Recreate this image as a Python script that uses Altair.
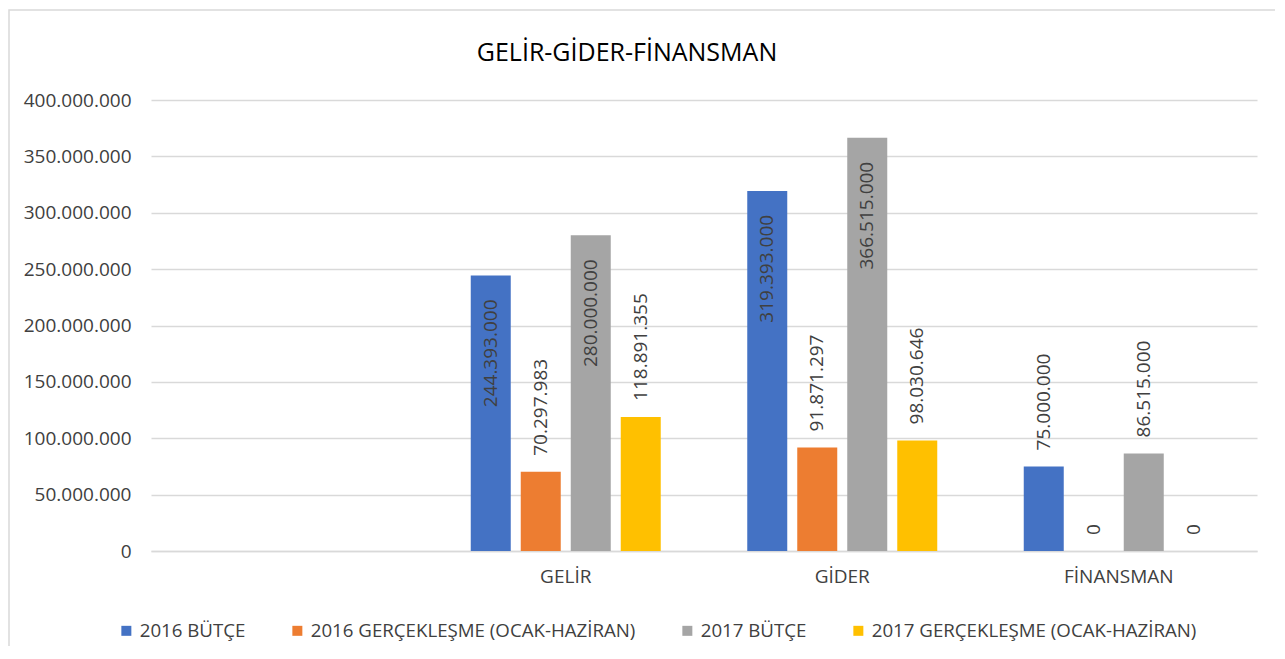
import altair as alt
import pandas as pd

chart_title = "GELİR-GİDER-FİNANSMAN"
all_categories = [" ", "GELİR", "GİDER", "FİNANSMAN"]
categories = ["GELİR", "GİDER", "FİNANSMAN"]
series = [
    "2016 BÜTÇE",
    "2016 GERÇEKLEŞME (OCAK-HAZİRAN)",
    "2017 BÜTÇE",
    "2017 GERÇEKLEŞME (OCAK-HAZİRAN)",
]
butce_2016 = [244393000, 319393000, 75000000]
gerceklesme_2016 = [70297983, 91871297, 0]
butce_2017 = [280000000, 366515000, 86515000]
gerceklesme_2017 = [118891355, 98030646, 0]
colors = ["#4472C4", "#ED7D31", "#A5A5A5", "#FFC000"]
y_ticks = [0, 50000000, 100000000, 150000000, 200000000, 250000000, 300000000, 350000000, 400000000]

rows = []
for s, vals in zip(series, [butce_2016, gerceklesme_2016, butce_2017, gerceklesme_2017]):
    for c, v in zip(categories, vals):
        rows.append({"kategori": c, "seri": s, "deger": v})
df = pd.DataFrame(rows)

FONT = "Open Sans"
TXT = "#404040"
GRID = "#d9d9d9"

x_enc = alt.X(
    "kategori:N",
    sort=all_categories,
    scale=alt.Scale(domain=all_categories, paddingInner=0, paddingOuter=0),
    axis=alt.Axis(
        title=None, labelAngle=0, ticks=False, domainColor=GRID, domainWidth=1.5,
        labelFont=FONT, labelFontSize=19, labelColor=TXT, labelPadding=16,
    ),
)
xoff = alt.XOffset(
    "seri:N", sort=series,
    scale=alt.Scale(domain=series, paddingInner=0.2, paddingOuter=0.865),
)
y_enc = alt.Y(
    "deger:Q",
    scale=alt.Scale(domain=[0, 400000000], nice=False),
    axis=alt.Axis(
        title=None, values=y_ticks, format=",d", domain=False, ticks=False,
        gridColor=GRID, gridWidth=1.5, labelFont=FONT, labelFontSize=19,
        labelColor=TXT, labelPadding=20,
    ),
)

base = alt.Chart(df).encode(x=x_enc, xOffset=xoff, y=y_enc)

bars = base.mark_bar().encode(
    color=alt.Color(
        "seri:N", sort=series,
        scale=alt.Scale(domain=series, range=colors),
        legend=alt.Legend(
            title=None, orient="none", legendX=-34, legendY=521,
            direction="horizontal", symbolType="square", symbolSize=100,
            symbolStrokeWidth=0, labelFont=FONT, labelFontSize=18.7,
            labelColor=TXT, columnPadding=42, labelOffset=4, padding=0,
            labelLimit=0,
        ),
    )
)

text_in = base.transform_filter("datum.deger > 200000000").mark_text(
    angle=270, align="right", baseline="middle", dx=-24,
    font=FONT, fontSize=19, color=TXT,
).encode(text=alt.Text("deger:Q", format=",d"))

text_out = base.transform_filter("datum.deger <= 200000000").mark_text(
    angle=270, align="left", baseline="middle", dx=16,
    font=FONT, fontSize=19, color=TXT,
).encode(text=alt.Text("deger:Q", format=",d"))

border = alt.Chart(alt.Data(values=[{"k": 1}])).mark_rect(
    filled=False, stroke="#d9d9d9", strokeWidth=1.5
).encode(
    x=alt.value(-142), x2=alt.value(1140), y=alt.value(-90), y2=alt.value(560)
)

title_mark = alt.Chart(alt.Data(values=[{"t": chart_title}])).mark_text(
    font=FONT, fontSize=25, color="black", align="center", baseline="middle"
).encode(text="t:N", x=alt.value(476), y=alt.value(-47))

chart = alt.layer(border, bars, text_in, text_out, title_mark).properties(
    width=1106,
    height=451,
    autosize=alt.AutoSizeParams(type="none"),
    padding={"left": 143, "top": 92, "right": 18, "bottom": 95},
).configure(
    locale={"number": {"decimal": ",", "thousands": ".", "grouping": [3], "currency": ["", " TL"]}}
).configure_view(stroke=None)

chart.save("out.html", embed_options={"renderer": "svg", "actions": False})
